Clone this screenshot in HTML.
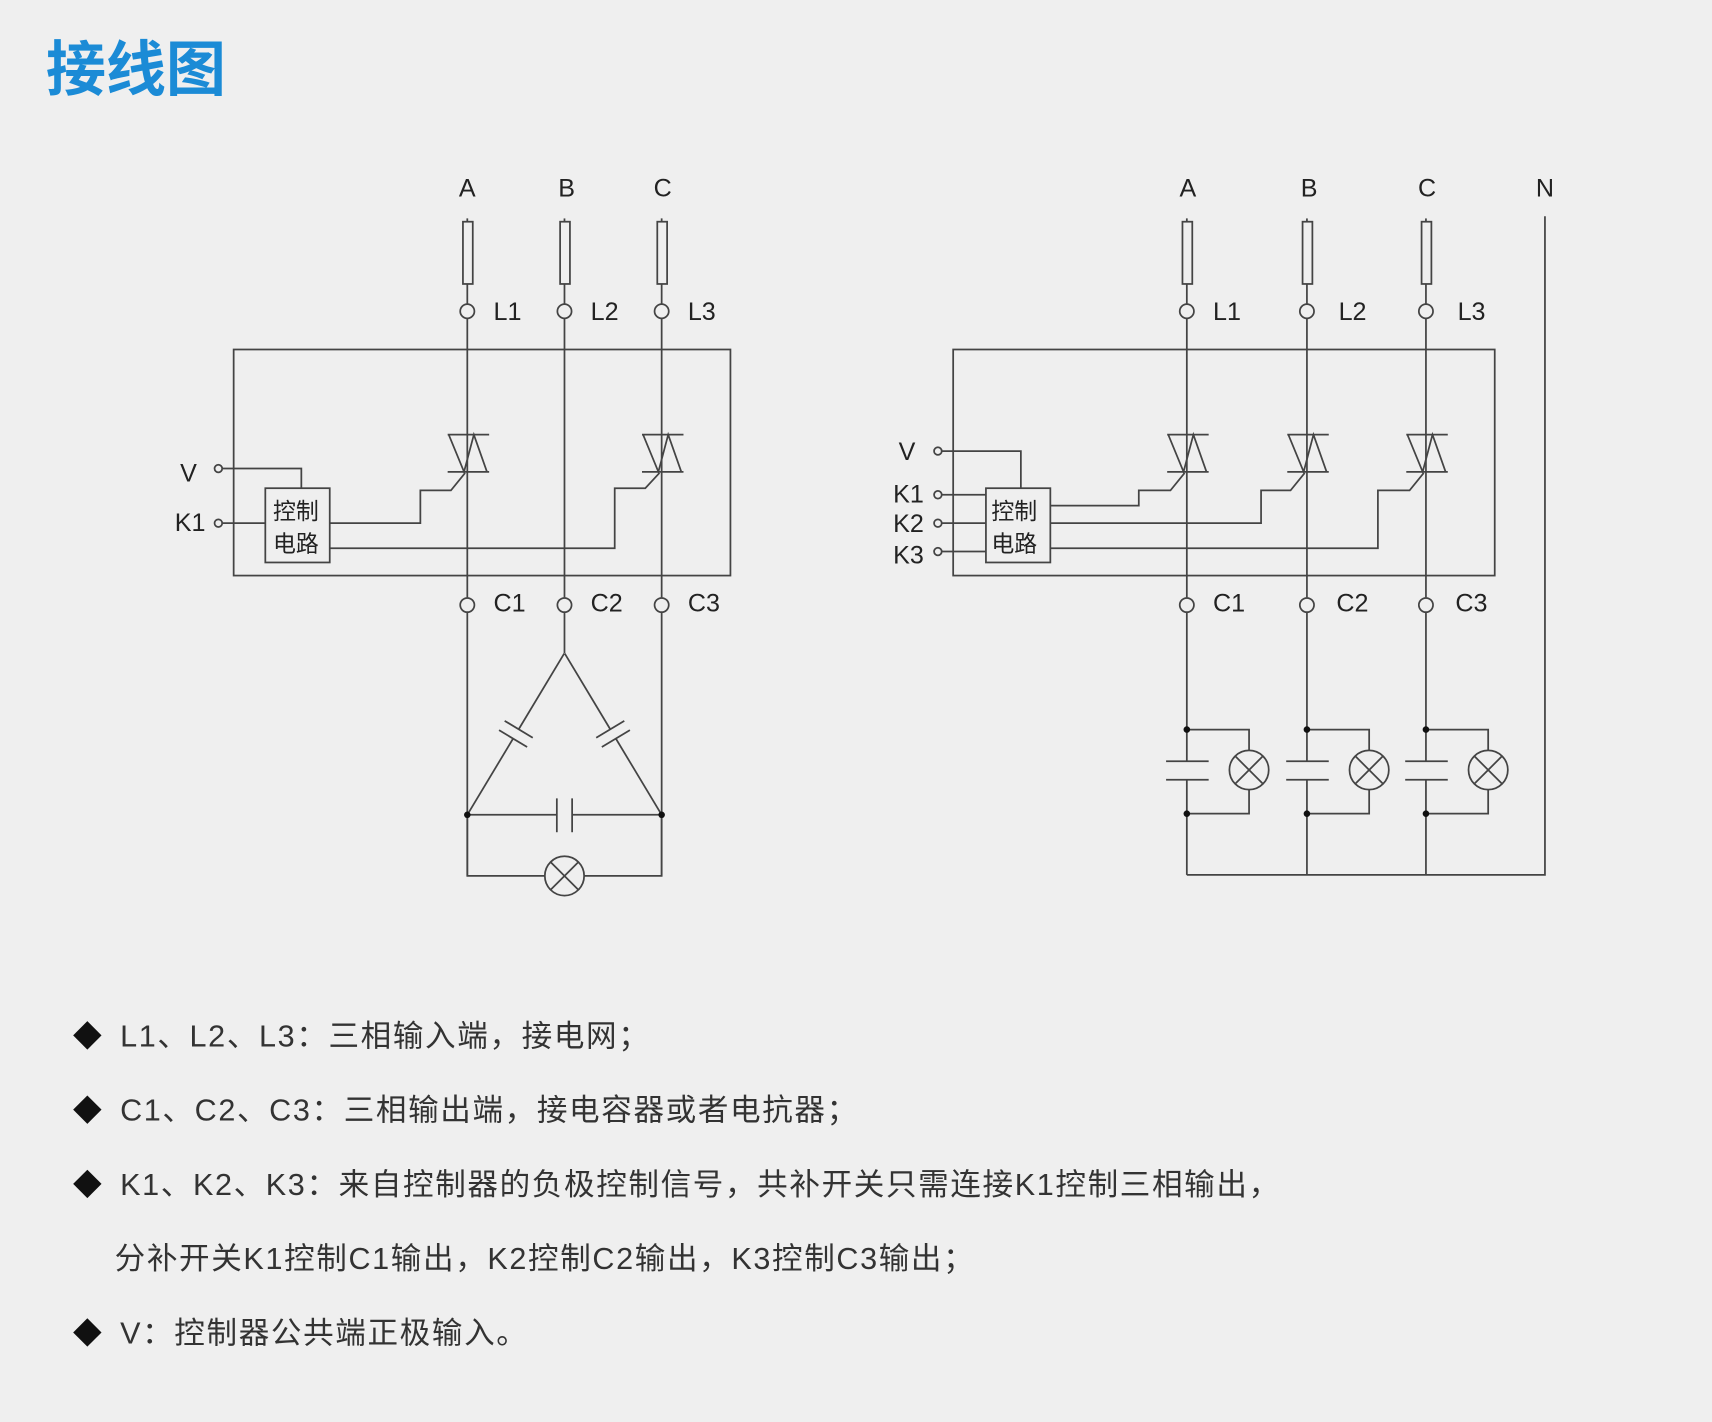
<!DOCTYPE html>
<html><head><meta charset="utf-8"><style>
html,body{margin:0;padding:0;background:#efefef;}
svg{display:block}
text{font-family:"Liberation Sans","Noto Sans CJK SC",sans-serif;}
</style></head><body>
<svg width="1712" height="1422" viewBox="0 0 1568 1302" preserveAspectRatio="none" xmlns="http://www.w3.org/2000/svg">
<rect width="1568" height="1302" fill="#efefef"/>
<text x="42" y="83" font-size="55" font-weight="bold" fill="#1b8bd6" font-family="'Noto Sans CJK SC',sans-serif">接线图</text>

<g stroke="#444" stroke-width="1.6" fill="none">
<rect x="214" y="320" width="455" height="207"/>
<line x1="428" y1="200" x2="428" y2="278"/><line x1="428" y1="292" x2="428" y2="547"/><line x1="428" y1="561" x2="428" y2="802"/>
<line x1="517" y1="200" x2="517" y2="278"/><line x1="517" y1="292" x2="517" y2="547"/><line x1="517" y1="561" x2="517" y2="598"/>
<line x1="606" y1="200" x2="606" y2="278"/><line x1="606" y1="292" x2="606" y2="547"/><line x1="606" y1="561" x2="606" y2="802"/>
<rect x="424" y="203" width="9" height="57" fill="#efefef"/>
<rect x="513" y="203" width="9" height="57" fill="#efefef"/>
<rect x="602" y="203" width="9" height="57" fill="#efefef"/>
<circle cx="428" cy="285" r="6.5" fill="#efefef"/><circle cx="517" cy="285" r="6.5" fill="#efefef"/><circle cx="606" cy="285" r="6.5" fill="#efefef"/>
<circle cx="428" cy="554" r="6.5" fill="#efefef"/><circle cx="517" cy="554" r="6.5" fill="#efefef"/><circle cx="606" cy="554" r="6.5" fill="#efefef"/>
<g><line x1="410" y1="398" x2="448" y2="398"/><line x1="410" y1="432" x2="448" y2="432"/>
<polyline points="411,398 425,432 434,398 446,432"/></g>
<g transform="translate(178,0)"><line x1="410" y1="398" x2="448" y2="398"/><line x1="410" y1="432" x2="448" y2="432"/>
<polyline points="411,398 425,432 434,398 446,432"/></g>
<rect x="243" y="447" width="59" height="68" fill="#efefef"/>
<circle cx="200" cy="429" r="3.5"/><circle cx="200" cy="479" r="3.5"/>
<polyline points="204,429 276,429 276,447"/>
<line x1="204" y1="479" x2="243" y2="479"/>
<polyline points="302,479 385,479 385,449 413,449 426,433"/>
<polyline points="302,502 563,502 563,447 591,447 604,433"/>
<g transform="translate(472.5,672) rotate(121)"><line x1="-86" y1="0" x2="-5" y2="0"/><line x1="5" y1="0" x2="86" y2="0"/><line x1="-5" y1="-15" x2="-5" y2="15"/><line x1="5" y1="-15" x2="5" y2="15"/></g>
<g transform="translate(561.5,672) rotate(59)"><line x1="-86" y1="0" x2="-5" y2="0"/><line x1="5" y1="0" x2="86" y2="0"/><line x1="-5" y1="-15" x2="-5" y2="15"/><line x1="5" y1="-15" x2="5" y2="15"/></g>
<line x1="428" y1="746" x2="510" y2="746"/><line x1="524" y1="746" x2="606" y2="746"/>
<line x1="510" y1="731" x2="510" y2="762"/><line x1="524" y1="731" x2="524" y2="762"/>
<polyline points="428,746 428,802 499,802"/><polyline points="606,746 606,802 535,802"/>
<circle cx="517" cy="802" r="18"/>
<line x1="504" y1="789" x2="530" y2="815"/><line x1="530" y1="789" x2="504" y2="815"/>

<rect x="873" y="320" width="496" height="207"/>
<line x1="1087" y1="200" x2="1087" y2="278"/><line x1="1087" y1="292" x2="1087" y2="547"/><line x1="1087" y1="561" x2="1087" y2="697"/><line x1="1087" y1="714" x2="1087" y2="801"/>
<line x1="1197" y1="200" x2="1197" y2="278"/><line x1="1197" y1="292" x2="1197" y2="547"/><line x1="1197" y1="561" x2="1197" y2="697"/><line x1="1197" y1="714" x2="1197" y2="801"/>
<line x1="1306" y1="200" x2="1306" y2="278"/><line x1="1306" y1="292" x2="1306" y2="547"/><line x1="1306" y1="561" x2="1306" y2="697"/><line x1="1306" y1="714" x2="1306" y2="801"/>
<polyline points="1415,198 1415,801 1087,801"/>
<rect x="1083" y="203" width="9" height="57" fill="#efefef"/>
<rect x="1193" y="203" width="9" height="57" fill="#efefef"/>
<rect x="1302" y="203" width="9" height="57" fill="#efefef"/>
<circle cx="1087" cy="285" r="6.5" fill="#efefef"/><circle cx="1197" cy="285" r="6.5" fill="#efefef"/><circle cx="1306" cy="285" r="6.5" fill="#efefef"/>
<circle cx="1087" cy="554" r="6.5" fill="#efefef"/><circle cx="1197" cy="554" r="6.5" fill="#efefef"/><circle cx="1306" cy="554" r="6.5" fill="#efefef"/>
<g transform="translate(659,0)"><line x1="410" y1="398" x2="448" y2="398"/><line x1="410" y1="432" x2="448" y2="432"/><polyline points="411,398 425,432 434,398 446,432"/></g>
<g transform="translate(769,0)"><line x1="410" y1="398" x2="448" y2="398"/><line x1="410" y1="432" x2="448" y2="432"/><polyline points="411,398 425,432 434,398 446,432"/></g>
<g transform="translate(878,0)"><line x1="410" y1="398" x2="448" y2="398"/><line x1="410" y1="432" x2="448" y2="432"/><polyline points="411,398 425,432 434,398 446,432"/></g>
<rect x="903" y="447" width="59" height="68" fill="#efefef"/>
<circle cx="859" cy="413" r="3.5"/><circle cx="859" cy="453" r="3.5"/><circle cx="859" cy="479" r="3.5"/><circle cx="859" cy="505" r="3.5"/>
<polyline points="863,413 935,413 935,447"/>
<line x1="863" y1="453" x2="903" y2="453"/><line x1="863" y1="479" x2="903" y2="479"/><line x1="863" y1="505" x2="903" y2="505"/>
<polyline points="962,463 1043,463 1043,449 1072,449 1085,433"/>
<polyline points="962,479 1155,479 1155,449 1182,449 1195,433"/>
<polyline points="962,502 1262,502 1262,449 1291,449 1304,433"/>
<g><line x1="1068" y1="697" x2="1107" y2="697"/><line x1="1068" y1="714" x2="1107" y2="714"/>
<polyline points="1087,668 1144,668 1144,687"/><polyline points="1087,745 1144,745 1144,723"/>
<circle cx="1144" cy="705" r="18"/><line x1="1131" y1="692" x2="1157" y2="718"/><line x1="1157" y1="692" x2="1131" y2="718"/></g>
<g transform="translate(110,0)"><line x1="1068" y1="697" x2="1107" y2="697"/><line x1="1068" y1="714" x2="1107" y2="714"/>
<polyline points="1087,668 1144,668 1144,687"/><polyline points="1087,745 1144,745 1144,723"/>
<circle cx="1144" cy="705" r="18"/><line x1="1131" y1="692" x2="1157" y2="718"/><line x1="1157" y1="692" x2="1131" y2="718"/></g>
<g transform="translate(219,0)"><line x1="1068" y1="697" x2="1107" y2="697"/><line x1="1068" y1="714" x2="1107" y2="714"/>
<polyline points="1087,668 1144,668 1144,687"/><polyline points="1087,745 1144,745 1144,723"/>
<circle cx="1144" cy="705" r="18"/><line x1="1131" y1="692" x2="1157" y2="718"/><line x1="1157" y1="692" x2="1131" y2="718"/></g>
</g>
<g fill="#111">
<circle cx="428" cy="746" r="3"/><circle cx="606" cy="746" r="3"/>
<circle cx="1087" cy="668" r="3"/><circle cx="1087" cy="745" r="3"/>
<circle cx="1197" cy="668" r="3"/><circle cx="1197" cy="745" r="3"/>
<circle cx="1306" cy="668" r="3"/><circle cx="1306" cy="745" r="3"/>
</g>

<g font-size="23" fill="#222">
<text x="428" y="180" text-anchor="middle">A</text><text x="519" y="180" text-anchor="middle">B</text><text x="607" y="180" text-anchor="middle">C</text>
<text x="452" y="293">L1</text><text x="541" y="293">L2</text><text x="630" y="293">L3</text>
<text x="452" y="560">C1</text><text x="541" y="560">C2</text><text x="630" y="560">C3</text>
<text x="165" y="441">V</text><text x="160" y="486">K1</text>
<text x="1088" y="180" text-anchor="middle">A</text><text x="1199" y="180" text-anchor="middle">B</text><text x="1307" y="180" text-anchor="middle">C</text><text x="1415" y="180" text-anchor="middle">N</text>
<text x="1111" y="293">L1</text><text x="1226" y="293">L2</text><text x="1335" y="293">L3</text>
<text x="1111" y="560">C1</text><text x="1224" y="560">C2</text><text x="1333" y="560">C3</text>
<text x="823" y="421">V</text><text x="818" y="460">K1</text><text x="818" y="487">K2</text><text x="818" y="516">K3</text>
</g>
<g font-size="21" fill="#222">
<text x="250" y="475" font-family="'Noto Sans CJK SC',sans-serif">控制</text><text x="250" y="505" font-family="'Noto Sans CJK SC',sans-serif">电路</text>
<text x="908" y="475" font-family="'Noto Sans CJK SC',sans-serif">控制</text><text x="908" y="505" font-family="'Noto Sans CJK SC',sans-serif">电路</text>
</g>

<g fill="#111">
<polygon points="80,935 93,948 80,961 67,948"/>
<polygon points="80,1003 93,1016 80,1029 67,1016"/>
<polygon points="80,1071 93,1084 80,1097 67,1084"/>
<polygon points="80,1207 93,1220 80,1233 67,1220"/>
</g>
<g font-size="28" fill="#333" letter-spacing="1.5">
<text x="110" y="958">L1、L2、L3：三相输入端，接电网；</text>
<text x="110" y="1026">C1、C2、C3：三相输出端，接电容器或者电抗器；</text>
<text x="110" y="1094">K1、K2、K3：来自控制器的负极控制信号，共补开关只需连接K1控制三相输出，</text>
<text x="105" y="1162">分补开关K1控制C1输出，K2控制C2输出，K3控制C3输出；</text>
<text x="110" y="1230">V：控制器公共端正极输入。</text>
</g>
</svg>
</body></html>
